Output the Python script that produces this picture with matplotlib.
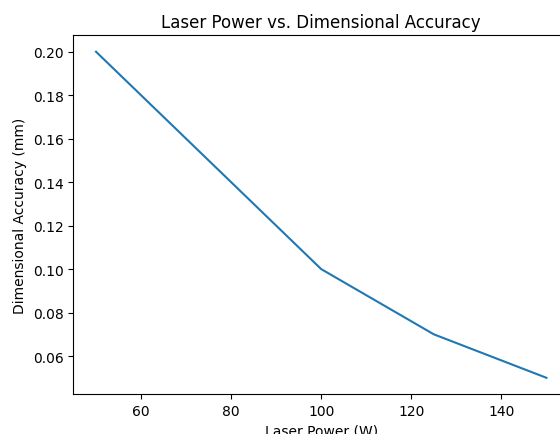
import matplotlib
matplotlib.use('Agg')
import matplotlib.pyplot as plt

# data
laser_power = [50, 100, 125, 150]
dimensional_accuracy = [0.20, 0.10, 0.07, 0.05]

fig = plt.figure(figsize=(5.6, 4.35), dpi=100)
ax = fig.add_axes([0.1312, 0.0917, 0.8848, 0.8246])

ax.plot(laser_power, dimensional_accuracy)

ax.set_xlabel('Laser Power (W)')
ax.set_ylabel('Dimensional Accuracy (mm)')
ax.set_title('Laser Power vs. Dimensional Accuracy')

fig.savefig('out.png', dpi=100)
